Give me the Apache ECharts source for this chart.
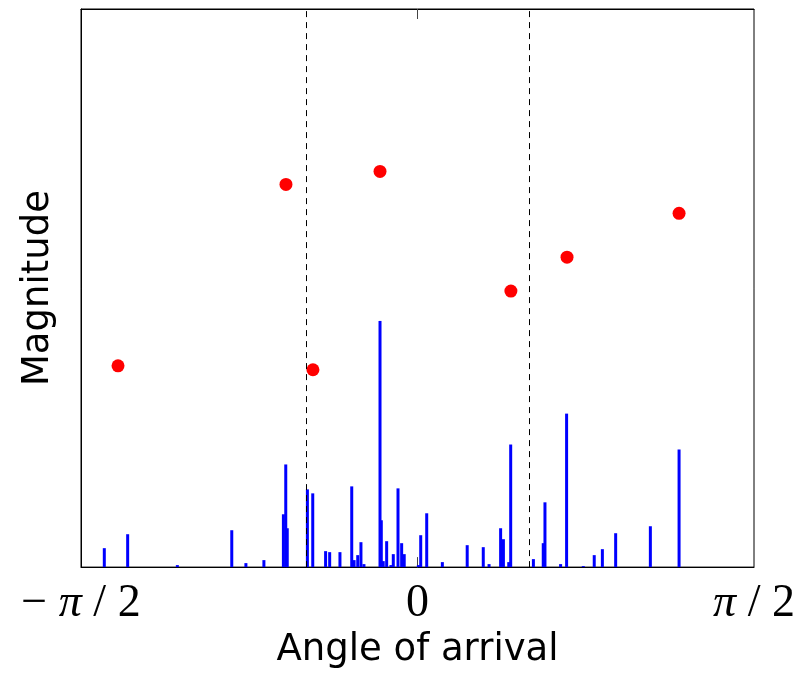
<!DOCTYPE html>
<html>
<head>
<meta charset="utf-8">
<script src="https://cdn.jsdelivr.net/npm/echarts@6/dist/echarts.min.js"></script>
<style>html,body{margin:0;padding:0;background:#fff;}#c{width:807px;height:674px;}</style>
</head>
<body>
<div id="c"></div>
<script>
// Angles in radians, magnitudes in arbitrary units
var barAngles = [-1.462,-1.353,-1.121,-0.867,-0.801,-0.717,-0.626,-0.615,-0.608,-0.514,-0.489,-0.429,-0.410,-0.362,-0.307,-0.296,-0.279,-0.264,-0.250,-0.175,-0.169,-0.160,-0.144,-0.124,-0.113,-0.091,-0.074,-0.062,0.004,0.015,0.043,0.116,0.232,0.307,0.334,0.388,0.401,0.426,0.435,0.541,0.587,0.595,0.668,0.696,0.774,0.825,0.863,0.925,1.087,1.221];
var barMags = [0.19,0.33,0.02,0.37,0.04,0.07,0.53,1.03,0.39,0.78,0.74,0.16,0.15,0.15,0.81,0.07,0.12,0.25,0.03,2.47,0.47,0.06,0.26,0.02,0.13,0.79,0.24,0.13,0.02,0.32,0.54,0.05,0.22,0.20,0.03,0.39,0.28,0.05,1.23,0.08,0.24,0.65,0.03,1.54,0.01,0.12,0.18,0.34,0.41,1.18];
var dotAngles = [-1.398,-0.614,-0.488,-0.175,0.436,0.698,1.221];
var dotMags = [2.02,3.84,1.98,3.97,2.77,3.11,3.55];
var boundaryAngles = [-Math.PI/6, Math.PI/6];
var tickValues = [-Math.PI/2, 0, Math.PI/2];
var tickLabels = ['{n|\u2212 }{p|\u03c0}{n| / 2}', '{n|0}', '{p|\u03c0}{n| / 2}'];

var chart = echarts.init(document.getElementById('c'), null, {renderer:'canvas'});
function lbl(v){
  var best = 0, d = Infinity;
  for (var i=0;i<tickValues.length;i++){ var dd=Math.abs(tickValues[i]-v); if(dd<d){d=dd;best=i;} }
  return tickLabels[best];
}
var labelFont = {fontFamily:'Liberation Serif',fontSize:46,color:'#000'};
var option = {
  animation:false,
  backgroundColor:'#fff',
  grid:{left:81,right:53,top:9,bottom:106,show:true,borderColor:'#000',borderWidth:1},
  xAxis:[{
    type:'value', min:-Math.PI/2, max:Math.PI/2,
    name:'Angle of arrival', nameLocation:'middle', nameGap:56,
    nameTextStyle:{fontFamily:'DejaVu Sans', fontSize:37, color:'#000'},
    axisLine:{show:true,onZero:false,lineStyle:{color:'#000',width:1}},
    axisTick:{show:true,inside:true,length:10,customValues:[0],lineStyle:{color:'#444'}},
    axisLabel:{show:true,customValues:tickValues,formatter:lbl,margin:14,
      fontFamily:'Liberation Serif',fontSize:46,color:'#000',
      rich:{
        n:{fontFamily:'Liberation Serif',fontSize:46,color:'#000'},
        p:{fontFamily:'Liberation Serif',fontStyle:'italic',fontSize:46,color:'#000'}
      }},
    splitLine:{show:false}
  },{
    type:'value', position:'top', min:-Math.PI/2, max:Math.PI/2,
    axisLine:{show:true,onZero:false,lineStyle:{color:'#000',width:1}},
    axisTick:{show:true,inside:true,length:10,customValues:[0],lineStyle:{color:'#444'}},
    axisLabel:{show:false},
    splitLine:{show:false}
  }],
  yAxis:{
    type:'value', min:0, max:5.6,
    name:'Magnitude', nameLocation:'middle', nameGap:24,
    nameTextStyle:{fontFamily:'DejaVu Sans', fontSize:37, color:'#000'},
    axisLine:{show:true,onZero:false,lineStyle:{color:'#000',width:1}},
    axisTick:{show:false}, axisLabel:{show:false}, splitLine:{show:false}
  },
  series:[{
    type:'bar',
    barWidth:3,
    barGap:'-100%',
    itemStyle:{color:'#0000ff'},
    data:barAngles.map(function(a,i){return [a, barMags[i]];}),
    markLine:{
      silent:true, symbol:['none','none'], label:{show:false},
      lineStyle:{color:'#000',type:[6,5],width:1},
      data:boundaryAngles.map(function(a){return {xAxis:a};})
    }
  },{
    type:'scatter',
    symbol:'circle', symbolSize:13,
    itemStyle:{color:'#ff0000',opacity:1},
    data:dotAngles.map(function(a,i){return [a, dotMags[i]];})
  }]
};
chart.setOption(option);
</script>
</body>
</html>
